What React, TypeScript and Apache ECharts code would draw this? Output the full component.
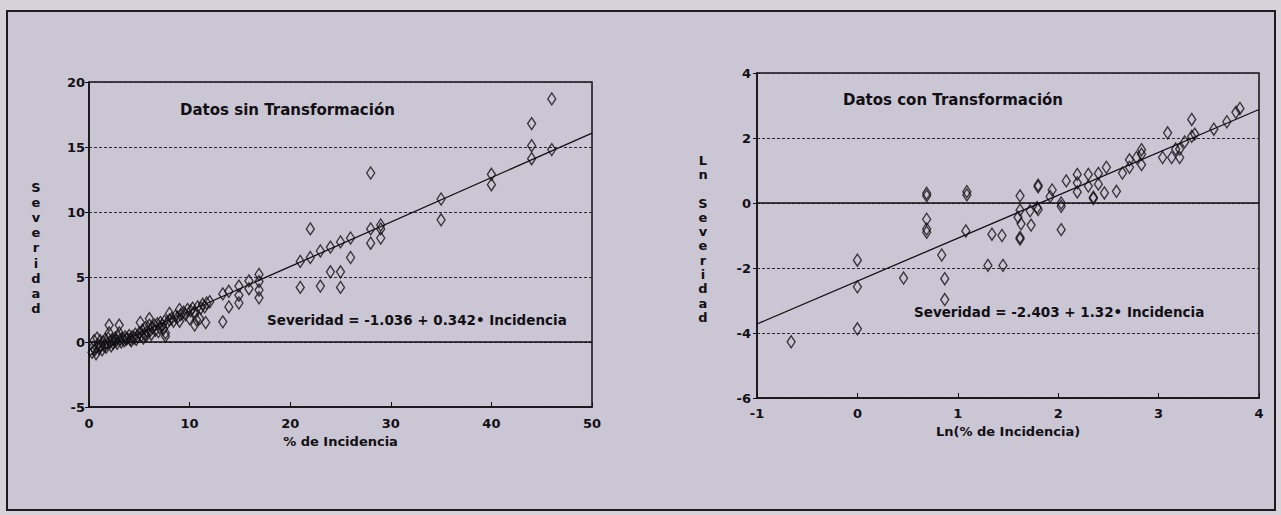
import React, { useEffect, useRef } from "react";
import * as echarts from "echarts";

// Left panel: raw data (% incidence, severity)
const leftPoints: number[][] = [
  [0.3, -0.8], [0.4, -0.4], [0.5, 0.1], [0.6, -0.6], [0.7, -0.9], [0.8, 0.3], [0.9, -0.2], [1.0, -0.5],
  [1.1, 0.1], [1.2, -0.3], [1.3, -0.6], [1.4, 0.0], [1.5, -0.3], [1.6, 0.2], [1.7, -0.4], [1.8, -0.1],
  [1.9, 0.3], [2.0, 0.7], [2.0, 1.3], [2.1, 0.0], [2.2, -0.3], [2.3, 0.2], [2.4, -0.1], [2.5, 0.1],
  [2.6, 0.3], [2.7, 0.1], [2.8, -0.1], [2.9, 0.4], [3.0, 0.7], [3.0, 1.3], [3.1, 0.2], [3.2, 0.0],
  [3.3, 0.3], [3.5, 0.1], [3.6, 0.4], [3.7, 0.2], [3.8, 0.3], [4.0, 0.5], [4.1, 0.2], [4.2, 0.1],
  [4.3, 0.4], [4.5, 0.3], [4.6, 0.6], [4.7, 0.2], [4.8, 0.4], [5.0, 0.7], [5.1, 1.5], [5.2, 0.5],
  [5.3, 0.9], [5.4, 0.3], [5.5, 0.6], [5.6, 1.1], [5.7, 0.5], [5.8, 0.8], [6.0, 1.8], [6.0, 1.3],
  [6.1, 0.9], [6.2, 0.6], [6.3, 1.1], [6.5, 1.3], [6.6, 0.9], [6.8, 1.4], [6.9, 0.8], [7.0, 1.1],
  [7.1, 1.5], [7.3, 1.3], [7.4, 1.0], [7.5, 1.6], [7.6, 0.7], [7.6, 0.45], [7.8, 1.5], [8.0, 2.2],
  [8.0, 1.7], [8.2, 1.8], [8.4, 1.6], [8.6, 2.0], [8.8, 1.9], [9.0, 2.5], [9.0, 1.6], [9.1, 2.1],
  [9.4, 2.3], [9.6, 2.1], [9.8, 2.5], [10.0, 1.8], [10.1, 2.4], [10.3, 2.6], [10.5, 1.3], [10.5, 2.3],
  [10.7, 1.7], [10.8, 2.7], [11.0, 1.8], [11.1, 2.6], [11.3, 2.9], [11.5, 2.7], [11.6, 1.5], [11.7, 3.0],
  [12.0, 3.1],
  [13.3, 3.7], [13.3, 1.55], [13.9, 3.9], [13.9, 2.7], [14.9, 4.3], [14.9, 3.6], [14.9, 3.0],
  [15.9, 4.7], [15.9, 4.1], [16.9, 5.2], [16.9, 4.65], [16.9, 4.0], [16.9, 3.4],
  [21, 6.2], [21, 4.2], [22, 6.5], [22, 8.7], [23, 7.0], [23, 4.3], [24, 7.3], [24, 5.4], [25, 7.7],
  [25, 5.4], [25, 4.2], [26, 8.0], [26, 6.5], [28, 13.0], [28, 8.7], [28, 7.6], [29, 9.0], [29, 8.7],
  [29, 8.0], [35, 11.0], [35, 9.4], [40, 12.9], [40, 12.1], [44, 16.8], [44, 15.1], [44, 14.1],
  [46, 18.7], [46, 14.8],
];

// Right panel: transformed data (ln % incidence, ln severity)
const rightPoints: number[][] = [
  [-0.66, -4.27], [0, -3.87], [0, -2.58], [0, -1.76], [0.46, -2.31], [0.69, 0.3], [0.69, 0.22],
  [0.69, -0.5], [0.69, -0.8], [0.69, -0.9], [0.84, -1.6], [0.87, -2.33], [0.87, -2.97], [1.09, 0.35],
  [1.09, 0.25], [1.08, -0.86], [1.34, -0.96], [1.44, -1.0], [1.3, -1.92], [1.45, -1.92], [1.62, 0.22],
  [1.62, -0.22], [1.6, -0.44], [1.63, -0.64], [1.62, -1.06], [1.62, -1.11], [1.72, -0.24], [1.73, -0.68],
  [1.79, -0.14], [1.8, -0.2], [1.8, 0.55], [1.8, 0.5], [1.92, 0.2], [1.94, 0.4], [2.03, 0.0],
  [2.03, -0.1], [2.03, -0.82], [2.08, 0.68], [2.19, 0.88], [2.19, 0.62], [2.19, 0.34], [2.3, 0.88],
  [2.3, 0.52], [2.35, 0.14], [2.35, 0.18], [2.4, 0.91], [2.4, 0.58], [2.46, 0.31], [2.48, 1.1],
  [2.58, 0.36], [2.64, 0.92], [2.71, 1.33], [2.71, 1.1], [2.78, 1.4], [2.83, 1.64], [2.83, 1.18],
  [2.83, 1.5], [3.04, 1.4], [3.09, 2.16], [3.13, 1.4], [3.17, 1.66], [3.21, 1.66], [3.21, 1.4],
  [3.26, 1.88], [3.33, 2.05], [3.33, 2.57], [3.36, 2.12], [3.55, 2.27], [3.68, 2.5], [3.77, 2.79],
  [3.81, 2.91],
];

// Regression coefficients [intercept, slope] and x ranges
const leftFit = [-1.036, 0.342];
const rightFit = [-2.403, 1.32];
const leftXRange = [0, 50];
const rightXRange = [-1, 4];

const leftTitle = "Datos sin Transformación";
const rightTitle = "Datos con Transformación";
const leftEquation = "Severidad = -1.036 + 0.342• Incidencia";
const rightEquation = "Severidad = -2.403 + 1.32• Incidencia";
const leftXName = "% de Incidencia";
const rightXName = "Ln(% de Incidencia)";
const leftYName = "Severidad";
const rightYName = "Ln Severidad";

const FONT = '"DejaVu Sans", "Liberation Sans", Arial, sans-serif';
const INK = "#121014";

function fitLine(fit: number[], range: number[]) {
  return range.map((x) => [x, fit[0] + fit[1] * x]);
}

function stacked(s: string) {
  return s.split("").map((c) => (c === " " ? "" : c)).join("\n");
}

export default function App() {
  const ref = useRef<HTMLDivElement>(null);
  useEffect(() => {
    document.body.style.margin = "0";
    if (!ref.current) return;
    const chart = echarts.init(ref.current, undefined, { renderer: "svg" });
    const axisLabel = { color: INK, fontWeight: "bold" as const, fontSize: 13, fontFamily: FONT };
    const nameTextStyle = { color: INK, fontWeight: "bold" as const, fontSize: 13, fontFamily: FONT };
    const split = { show: true, lineStyle: { color: "#2e2a34", width: 1, type: [3, 2] as any } };
    const scatterStyle = {
      symbol: "diamond",
      symbolSize: [8, 12],
      itemStyle: { color: "rgba(0,0,0,0)", borderColor: INK, borderWidth: 1.4 },
    };
    const zeroLine = {
      silent: true,
      symbol: ["none", "none"],
      label: { show: false },
      lineStyle: { color: INK, type: "solid", width: 1.5 },
      data: [{ yAxis: 0 }],
    };
    const axisLineX = { onZero: false, lineStyle: { color: INK, width: 1.5 } };
    const axisLineY = { show: true, onZero: false, lineStyle: { color: INK, width: 1.5 } };
    chart.setOption({
      animation: false,
      backgroundColor: "transparent",
      grid: [
        { left: 89, top: 82, width: 503, height: 325, show: true, borderColor: INK, borderWidth: 1.5, backgroundColor: "transparent" },
        { left: 757, top: 73, width: 502, height: 325, show: true, borderColor: INK, borderWidth: 1.5, backgroundColor: "transparent" },
      ],
      xAxis: [
        {
          gridIndex: 0, type: "value", min: leftXRange[0], max: leftXRange[1], interval: 10,
          axisLine: axisLineX,
          axisTick: { inside: true, length: 5, lineStyle: { color: INK } },
          axisLabel: { ...axisLabel, margin: 10 },
          splitLine: { show: false },
          name: leftXName, nameLocation: "middle", nameGap: 27, nameTextStyle,
        },
        {
          gridIndex: 1, type: "value", min: rightXRange[0], max: rightXRange[1], interval: 1,
          axisLine: axisLineX,
          axisTick: { inside: true, length: 5, lineStyle: { color: INK } },
          axisLabel: { ...axisLabel, margin: 9 },
          splitLine: { show: false },
          name: rightXName, nameLocation: "middle", nameGap: 25, nameTextStyle,
        },
      ],
      yAxis: [
        {
          gridIndex: 0, type: "value", min: -5, max: 20, interval: 5,
          axisLine: axisLineY,
          axisTick: { show: true, length: 4, lineStyle: { color: INK } },
          axisLabel: { ...axisLabel, margin: 4 },
          splitLine: split,
        },
        {
          gridIndex: 1, type: "value", min: -6, max: 4, interval: 2,
          axisLine: axisLineY,
          axisTick: { show: true, length: 4, lineStyle: { color: INK } },
          axisLabel: { ...axisLabel, margin: 6 },
          splitLine: split,
        },
      ],
      series: [
        { type: "scatter", xAxisIndex: 0, yAxisIndex: 0, data: leftPoints, ...scatterStyle, markLine: zeroLine, z: 3 },
        {
          type: "line", xAxisIndex: 0, yAxisIndex: 0, data: fitLine(leftFit, leftXRange),
          symbol: "none", lineStyle: { color: INK, width: 1.3 }, z: 4,
        },
        { type: "scatter", xAxisIndex: 1, yAxisIndex: 1, data: rightPoints, ...scatterStyle, markLine: zeroLine, z: 3 },
        {
          type: "line", xAxisIndex: 1, yAxisIndex: 1, data: fitLine(rightFit, rightXRange),
          symbol: "none", lineStyle: { color: INK, width: 1.3 }, z: 4,
        },
      ],
      graphic: [
        { type: "text", x: 180, y: 110, style: { text: leftTitle, font: `bold 15px ${FONT}`, fill: INK, textVerticalAlign: "middle" } },
        { type: "text", x: 843, y: 100, style: { text: rightTitle, font: `bold 15px ${FONT}`, fill: INK, textVerticalAlign: "middle" } },
        { type: "text", x: 267, y: 320, style: { text: leftEquation, font: `bold 13.5px ${FONT}`, fill: INK, textVerticalAlign: "middle" } },
        { type: "text", x: 914, y: 312, style: { text: rightEquation, font: `bold 13.5px ${FONT}`, fill: INK, textVerticalAlign: "middle" } },
        {
          type: "text", x: 36, y: 180,
          style: { text: stacked(leftYName), font: `bold 13px ${FONT}`, fill: INK, textAlign: "center", lineHeight: 15.1 },
        },
        {
          type: "text", x: 703, y: 153,
          style: { text: stacked(rightYName), font: `bold 13px ${FONT}`, fill: INK, textAlign: "center", lineHeight: 14.3 },
        },
      ],
    });
    return () => chart.dispose();
  }, []);

  return (
    <div style={{ position: "relative", width: 1281, height: 515, background: "#d6d2dc", overflow: "hidden" }}>
      <div
        style={{
          position: "absolute", left: 6, top: 10, width: 1266, height: 497,
          border: "2px solid #1e1a22", background: "#cbc6d4",
        }}
      />
      <div ref={ref} style={{ position: "absolute", left: 0, top: 0, width: 1281, height: 515 }} />
    </div>
  );
}
